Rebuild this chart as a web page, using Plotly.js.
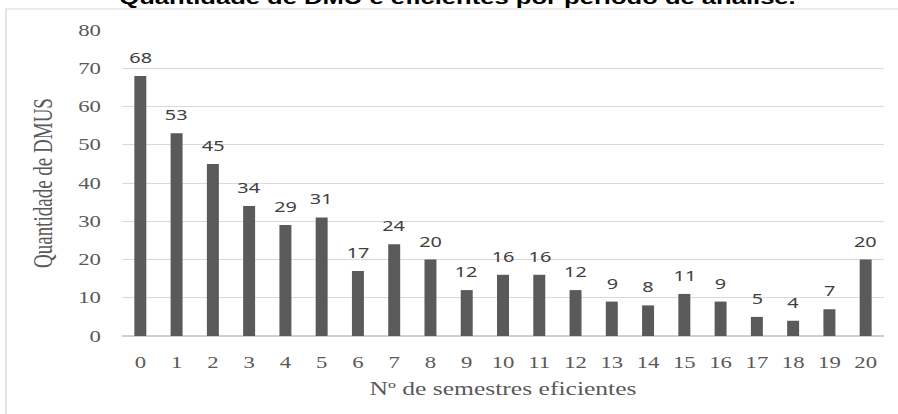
<!DOCTYPE html>
<html>
<head>
<meta charset="utf-8">
<script src="https://cdn.plot.ly/plotly-3.0.1.min.js"></script>
<style>
  html, body { margin: 0; padding: 0; background: #ffffff; overflow: hidden; }
  #wrap { width: 898px; height: 414px; overflow: hidden; }
  #chart { width: 632px; height: 414px; transform: scaleX(1.4209); transform-origin: 0 0; }
</style>
</head>
<body>
<div id="wrap"><div id="chart"></div></div>
<script>
const categories = ['0','1','2','3','4','5','6','7','8','9','10','11','12','13','14','15','16','17','18','19','20'];
const dmuCounts = [68, 53, 45, 34, 29, 31, 17, 24, 20, 12, 16, 16, 12, 9, 8, 11, 9, 5, 4, 7, 20];
const yTicks = [0, 10, 20, 30, 40, 50, 60, 70, 80];
const chartTitle = 'Quantidade de DMU e eficientes por período de análise.';
const xTitle = 'Nº de semestres eficientes';
const yTitle = 'Quantidade de DMUS';

const trace = {
  type: 'bar',
  x: categories,
  y: dmuCounts,
  marker: { color: '#5a5a5a' },
  hoverinfo: 'x+y'
};

const labels = categories.map((c, i) => ({
  x: c, y: dmuCounts[i], xref: 'x', yref: 'y',
  text: String(dmuCounts[i]), showarrow: false,
  yanchor: 'bottom', yshift: 7,
  font: { family: 'Noto Sans, Open Sans, sans-serif', size: 14, color: '#404040' }
}));

const layout = {
  width: 632, height: 414,
  margin: { l: 86, r: 10, t: 30, b: 78 },
  paper_bgcolor: '#ffffff', plot_bgcolor: '#ffffff',
  showlegend: false,
  bargap: 0.67,
  title: {
    text: '<b>' + chartTitle + '</b>',
    x: 0.5095, xref: 'container', xanchor: 'center',
    y: 0.991, yref: 'container', yanchor: 'bottom',
    font: { family: 'Liberation Sans, Arial, sans-serif', size: 18, color: '#000000' }
  },
  xaxis: {
    type: 'category',
    tickvals: categories, ticktext: categories,
    showgrid: false, zeroline: false,
    showline: false, ticks: '',
    ticklabelstandoff: 15,
    tickfont: { family: 'Liberation Serif, Times New Roman, serif', size: 16, color: '#595959' },
    title: { text: xTitle, standoff: 12,
      font: { family: 'Liberation Serif, Times New Roman, serif', size: 18, color: '#595959' } }
  },
  yaxis: {
    range: [0, 80], tickvals: yTicks, ticktext: yTicks.map(String),
    showgrid: true, gridcolor: '#d9d9d9', gridwidth: 1,
    zeroline: true, zerolinecolor: '#d0d0d0', zerolinewidth: 1.5,
    showline: false, ticks: '',
    ticklabelstandoff: 14,
    tickfont: { family: 'Liberation Serif, Times New Roman, serif', size: 16, color: '#595959' },
    title: { text: yTitle, standoff: 12,
      font: { family: 'Liberation Serif, Times New Roman, serif', size: 19, color: '#595959' } }
  },
  annotations: labels,
  shapes: [{
    type: 'rect', xref: 'paper', yref: 'paper',
    x0: -0.1526, x1: 1.2, y0: 1.0686, y1: -0.5,
    line: { color: '#d9d9d9', width: 1 }, fillcolor: 'rgba(0,0,0,0)', layer: 'below'
  }]
};

Plotly.newPlot('chart', [trace], layout, { displayModeBar: false, staticPlot: true });
</script>
</body>
</html>
